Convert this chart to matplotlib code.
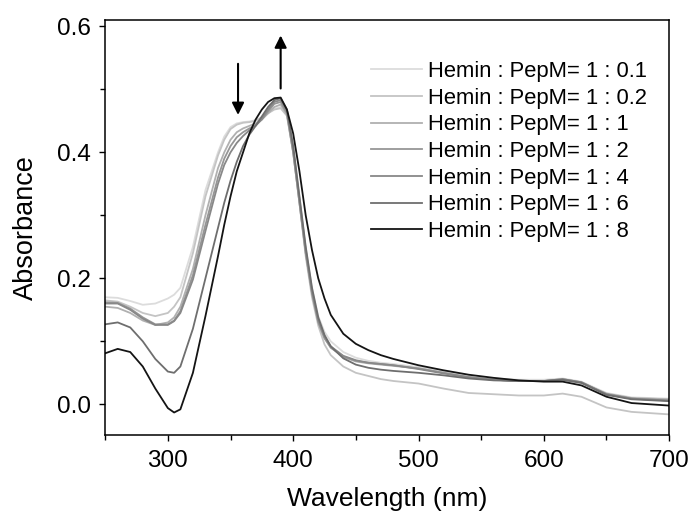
import matplotlib.pyplot as plt
from matplotlib.ticker import MultipleLocator

plt.rcParams['font.family'] = ['Liberation Sans', 'DejaVu Sans']

# --- data ---
wl = [250, 260, 270, 280, 290, 300, 305, 310, 320, 330, 340, 345, 350, 355, 360,
      365, 370, 375, 380, 385, 390, 395, 400, 405, 410, 415, 420, 425, 430, 440,
      450, 460, 470, 480, 500, 520, 540, 560, 580, 600, 615, 630, 650, 670, 700]

r_01 = [.170, .169, .164, .158, .160, .168, .174, .185, .250, .340, .400, .425, .440, .446, .448,
        .449, .451, .456, .463, .469, .472, .462, .410, .330, .250, .185, .140, .115, .100, .083,
        .074, .069, .066, .064, .059, .052, .045, .041, .039, .039, .041, .036, .018, .011, .009]
r_02 = [.165, .163, .155, .145, .140, .145, .155, .170, .240, .330, .395, .420, .437, .444, .447,
        .448, .450, .455, .462, .468, .470, .458, .400, .320, .235, .170, .125, .095, .078, .060,
        .050, .045, .040, .037, .033, .025, .018, .016, .014, .014, .017, .012, -.005, -.012, -.016]
r_1 = [.155, .153, .145, .133, .126, .130, .138, .155, .215, .300, .375, .400, .420, .432, .438,
       .442, .446, .452, .462, .472, .476, .460, .400, .320, .240, .178, .132, .105, .090, .075,
       .068, .065, .063, .061, .057, .050, .043, .039, .037, .037, .039, .034, .017, .010, .008]
r_2 = [.162, .161, .152, .138, .127, .127, .133, .148, .205, .285, .360, .390, .410, .424, .432,
       .438, .443, .452, .465, .477, .480, .462, .400, .320, .240, .176, .130, .105, .090, .076,
       .069, .066, .064, .062, .057, .050, .043, .039, .037, .037, .040, .035, .016, .009, .006]
r_4 = [.160, .160, .150, .136, .126, .126, .132, .145, .198, .275, .350, .380, .400, .415, .426,
       .435, .442, .453, .468, .480, .483, .465, .405, .325, .245, .180, .134, .108, .092, .077,
       .070, .066, .064, .062, .056, .049, .043, .039, .037, .037, .040, .035, .016, .009, .006]
r_6 = [.127, .130, .122, .100, .072, .052, .050, .060, .120, .200, .280, .320, .355, .385, .410,
       .428, .442, .457, .472, .483, .486, .468, .410, .330, .250, .185, .138, .110, .092, .073,
       .063, .058, .055, .053, .050, .046, .041, .038, .037, .037, .039, .034, .015, .008, .005]
r_8 = [.081, .088, .083, .060, .025, -.006, -.013, -.008, .050, .140, .235, .285, .330, .370, .400,
       .430, .452, .468, .480, .486, .487, .468, .430, .370, .300, .245, .200, .168, .142, .112,
       .096, .086, .078, .072, .062, .054, .047, .042, .038, .036, .036, .030, .012, .002, -.002]

series = [r_01, r_02, r_1, r_2, r_4, r_6, r_8]
labels = ["Hemin : PepM= 1 : 0.1", "Hemin : PepM= 1 : 0.2", "Hemin : PepM= 1 : 1",
          "Hemin : PepM= 1 : 2", "Hemin : PepM= 1 : 4", "Hemin : PepM= 1 : 6",
          "Hemin : PepM= 1 : 8"]
colors = ["#dcdcdc", "#c4c4c4", "#b0b0b0", "#969696", "#888888", "#6e6e6e", "#141414"]

# --- plot ---
fig = plt.figure(figsize=(6.92, 5.15), dpi=100)
ax = fig.add_axes([0.152, 0.155, 0.815, 0.806])

for y, lab, c in zip(series, labels, colors):
    ax.plot(wl, y, color=c, lw=1.3, label=lab)

ax.set_xlim(250, 700)
ax.set_ylim(-0.049, 0.61)
ax.xaxis.set_major_locator(MultipleLocator(100))
ax.xaxis.set_minor_locator(MultipleLocator(50))
ax.yaxis.set_major_locator(MultipleLocator(0.2))
ax.yaxis.set_minor_locator(MultipleLocator(0.1))
ax.yaxis.set_major_formatter(plt.FormatStrFormatter('%.1f'))
ax.tick_params(which='both', direction='out', top=False, right=False, width=1.0)
ax.tick_params(which='major', length=4.5, labelsize=17.5, pad=6)
ax.tick_params(which='minor', length=3.5)
for s in ax.spines.values():
    s.set_linewidth(1.1)

ax.set_xlabel("Wavelength (nm)", fontsize=19, labelpad=11)
ax.set_ylabel("Absorbance", fontsize=19.5, labelpad=13)

# arrows showing the trend
ax.annotate("", xy=(356, 0.455), xytext=(356, 0.545),
            arrowprops=dict(arrowstyle='-|>', color='black', lw=1.5, mutation_scale=18))
ax.annotate("", xy=(390, 0.59), xytext=(390, 0.497),
            arrowprops=dict(arrowstyle='-|>', color='black', lw=1.5, mutation_scale=18))

ax.legend(loc='upper left', bbox_to_anchor=(0.452, 0.928), frameon=False, fontsize=15.8,
          handlelength=2.3, handletextpad=0.28, labelspacing=0.26, borderpad=0)

fig.savefig("out.png", dpi=100)
